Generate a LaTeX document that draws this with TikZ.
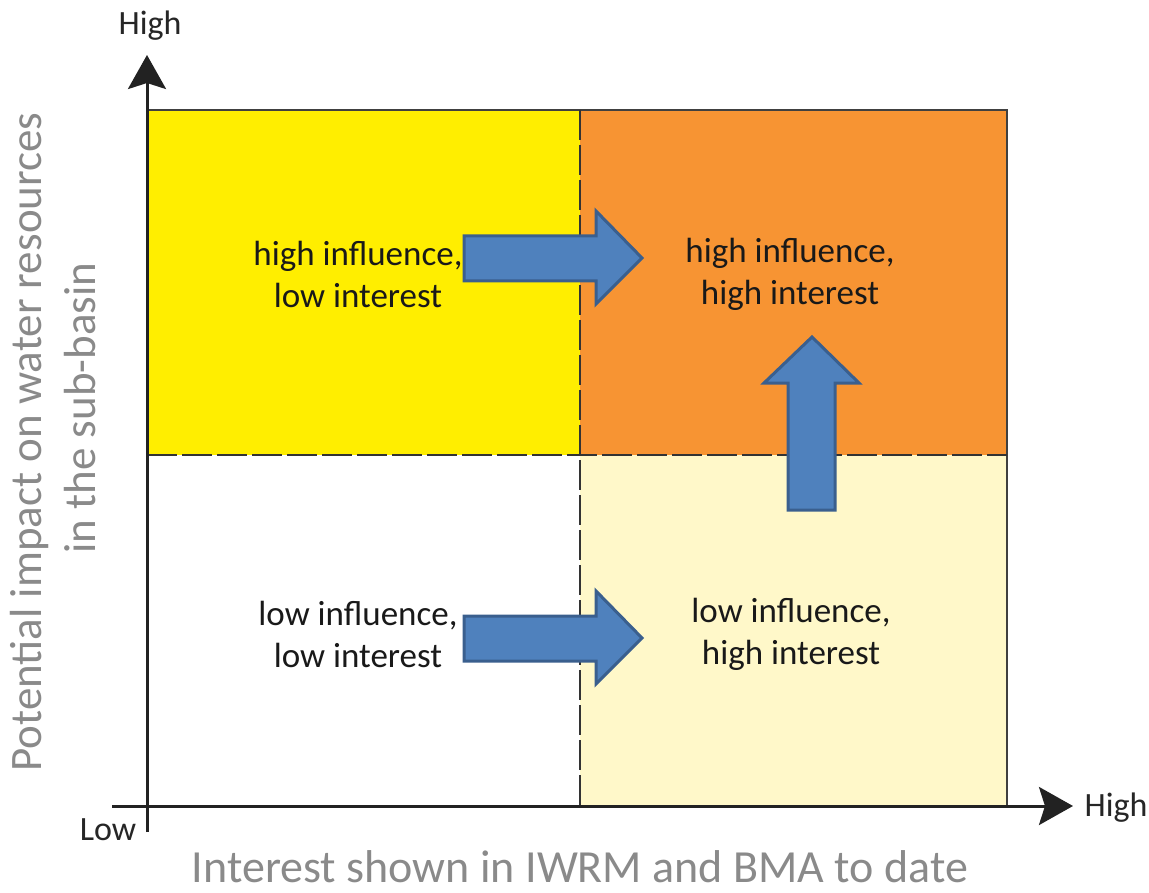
\documentclass[tikz,border=0pt]{standalone}
\usepackage{fontspec}
\setmainfont{Carlito}
\usetikzlibrary{arrows.meta}
\definecolor{quadyellow}{HTML}{FFEE00}
\definecolor{quadorange}{HTML}{F79433}
\definecolor{quadpale}{HTML}{FFF8C9}
\definecolor{arrowfill}{HTML}{4F81BD}
\definecolor{arrowline}{HTML}{3A5F8E}
\definecolor{axisgray}{HTML}{8A8A8A}
\definecolor{axisline}{HTML}{222222}
\tikzset{
  quadtext/.style={align=center, font=\fontsize{35}{42}\selectfont, text=black!90},
  ticktext/.style={font=\fontsize{34}{38}\selectfont, text=black!85},
  axistitle/.style={font=\fontsize{45}{50}\selectfont, text=axisgray},
  blockarrow/.style={fill=arrowfill, draw=arrowline, line width=3pt, line join=miter},
  axisarrow/.style={draw=axisline, line width=3pt, -{Stealth[length=34pt, width=38pt, inset=6pt]}},
  midline/.style={draw=black!80, line width=1.5pt, dash pattern=on 30pt off 5pt},
  frameline/.style={draw=black!75, line width=2pt}
}
\begin{document}
\begin{tikzpicture}[x=1pt, y=-1pt]
\useasboundingbox (0,0) rectangle (1149,893);
\fill[white] (0,0) rectangle (1149,893);
% quadrants
\fill[quadyellow] (147,110) rectangle (580,455);
\fill[quadorange] (580,110) rectangle (1007,455);
\fill[quadpale] (580,455) rectangle (1007,806);
% frame
\draw[frameline] (147,110) -- (1007,110) -- (1007,806);
\draw[midline] (580,110) -- (580,806);
\draw[midline] (147,455) -- (1007,455);
% axes
\coordinate (yb) at (147,832);
\coordinate (yt) at (147,55);
\coordinate (xl) at (112,806);
\coordinate (xr) at (1073,806);
\draw[axisarrow] (yb) -- (yt);
\draw[axisarrow] (xl) -- (xr);
% axis texts
\node[ticktext] (yhigh) at (150,26) {High};
\node[ticktext] (xlow) at (108,830) {Low};
\node[ticktext] (xhigh) at (1116,808) {High};
\node[axistitle, anchor=base, inner sep=0pt, font=\fontsize{46}{50}\selectfont] (xtitle) at (580,882) {Interest shown in IWRM and BMA to date};
\node[axistitle, rotate=90] (ytitle1) at (30,442) {Potential impact on water resources};
\node[axistitle, rotate=90] (ytitle2) at (80,408) {in the sub-basin};
% quadrant texts
\node[quadtext] (hl) at (358,274) {high influence,\\low interest};
\node[quadtext] (hh) at (790,274) {high influence,\\high interest};
\node[quadtext] (ll) at (358,634) {low influence,\\low interest};
\node[quadtext] (lh) at (791,634) {low influence,\\high interest};
% block arrows
\draw[blockarrow] (464,236) -- (596,236) -- (596,211) -- (642,258) -- (596,304) -- (596,281) -- (464,281) -- cycle;
\draw[blockarrow] (464,616) -- (596,616) -- (596,591) -- (642,638) -- (596,684) -- (596,661) -- (464,661) -- cycle;
\draw[blockarrow] (788,510) -- (788,383) -- (764,383) -- (812,337) -- (859,383) -- (835,383) -- (835,510) -- cycle;
\end{tikzpicture}
\end{document}
